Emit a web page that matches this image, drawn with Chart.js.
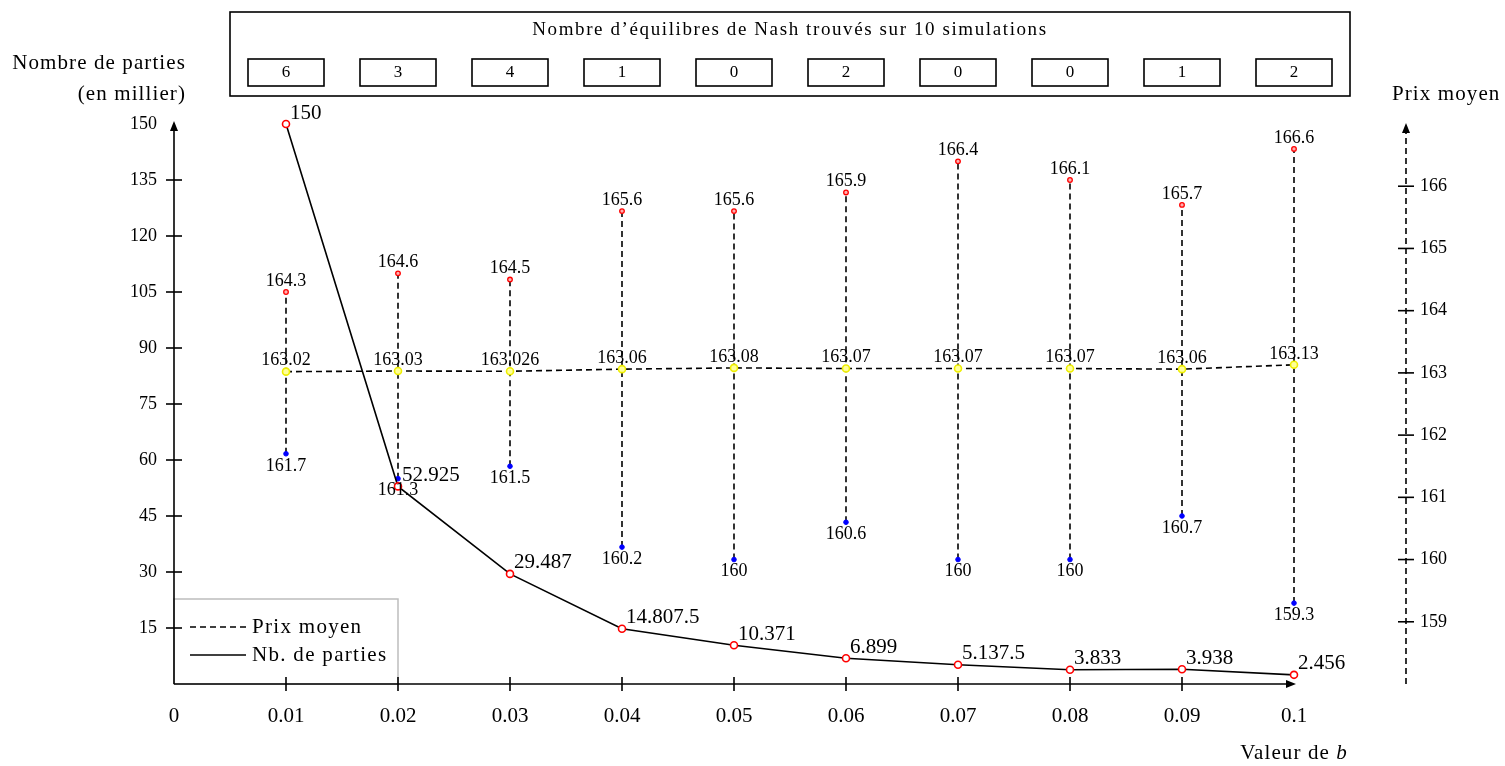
<!DOCTYPE html>
<html>
<head>
<meta charset="utf-8">
<title>Prix moyen et nombre de parties selon b</title>
<script src="https://cdn.jsdelivr.net/npm/chart.js@4.4.0/dist/chart.umd.min.js"></script>
<style>
  html, body { margin: 0; padding: 0; background: #fff; }
  #chart { display: block; }
</style>
</head>
<body>
<canvas id="chart" width="1505" height="766"></canvas>
<script>
// Valeurs de b (axe horizontal)
const bValues = [0.01, 0.02, 0.03, 0.04, 0.05, 0.06, 0.07, 0.08, 0.09, 0.1]

// Nombre de parties (en millier)
const nbParties = [150, 52.925, 29.487, 14.8075, 10.371, 6.899, 5.1375, 3.833, 3.938, 2.456]
const nbPartiesLabels = ["150", "52.925", "29.487", "14.807.5", "10.371", "6.899", "5.137.5", "3.833", "3.938", "2.456"]

// Prix moyen, min et max
const prixMoyen = [163.02, 163.03, 163.026, 163.06, 163.08, 163.07, 163.07, 163.07, 163.06, 163.13]
const prixMax = [164.3, 164.6, 164.5, 165.6, 165.6, 165.9, 166.4, 166.1, 165.7, 166.6]
const prixMin = [161.7, 161.3, 161.5, 160.2, 160, 160.6, 160, 160, 160.7, 159.3]

// Nombre d'equilibres de Nash sur 10 simulations
const nashCounts = [6, 3, 4, 1, 0, 2, 0, 0, 1, 2]

// Graduations
const xTicks = [0, 0.01, 0.02, 0.03, 0.04, 0.05, 0.06, 0.07, 0.08, 0.09, 0.1]
const xTickLabels = ["0", "0.01", "0.02", "0.03", "0.04", "0.05", "0.06", "0.07", "0.08", "0.09", "0.1"]
const yTicks = [15, 30, 45, 60, 75, 90, 105, 120, 135, 150]
const y2Ticks = [159, 160, 161, 162, 163, 164, 165, 166]

const SERIF = "'Liberation Serif', 'Times New Roman', serif"

function arrowHead(ctx, x, y, dir) {
  ctx.beginPath()
  if (dir === "up") {
    ctx.moveTo(x, y)
    ctx.lineTo(x - 4, y + 10)
    ctx.lineTo(x + 4, y + 10)
  } else {
    ctx.moveTo(x, y)
    ctx.lineTo(x - 10, y - 4)
    ctx.lineTo(x - 10, y + 4)
  }
  ctx.closePath()
  ctx.fillStyle = "#000"
  ctx.fill()
}

const decorPlugin = {
  id: "decor",
  afterDatasetsDraw(chart) {
    const ctx = chart.ctx
    const area = chart.chartArea
    const xs = chart.scales.x
    const ys = chart.scales.y
    const y2s = chart.scales.y2
    ctx.save()

    // Legend box (bottom left)
    const legTop = area.bottom - 85
    const legRight = xs.getPixelForValue(0.02)
    ctx.fillStyle = "#fff"
    ctx.fillRect(area.left, legTop, legRight - area.left, area.bottom - legTop)
    ctx.strokeStyle = "#bdbdbd"
    ctx.lineWidth = 1.5
    ctx.strokeRect(area.left, legTop, legRight - area.left, area.bottom - legTop)
    ctx.strokeStyle = "#000"
    ctx.lineWidth = 1.6
    ctx.setLineDash([6, 4])
    ctx.beginPath()
    ctx.moveTo(area.left + 16, legTop + 28)
    ctx.lineTo(area.left + 72, legTop + 28)
    ctx.stroke()
    ctx.setLineDash([])
    ctx.beginPath()
    ctx.moveTo(area.left + 16, legTop + 56)
    ctx.lineTo(area.left + 72, legTop + 56)
    ctx.stroke()
    ctx.font = "21px " + SERIF
    ctx.fillStyle = "#000"
    ctx.textAlign = "left"
    ctx.textBaseline = "middle"
    ctx.letterSpacing = "1.3px"
    ctx.fillText("Prix moyen", area.left + 78, legTop + 28)
    ctx.fillText("Nb. de parties", area.left + 78, legTop + 56)

    // Left axis
    ctx.strokeStyle = "#000"
    ctx.lineWidth = 1.6
    const yTop = ys.getPixelForValue(150) - 3
    ctx.beginPath()
    ctx.moveTo(area.left, area.bottom)
    ctx.lineTo(area.left, yTop + 6)
    ctx.stroke()
    arrowHead(ctx, area.left, yTop, "up")
    yTicks.slice(0, -1).forEach((v) => {
      const py = ys.getPixelForValue(v)
      ctx.beginPath()
      ctx.moveTo(area.left - 8, py)
      ctx.lineTo(area.left + 8, py)
      ctx.stroke()
    })

    // Bottom axis
    const xEnd = xs.getPixelForValue(0.1) + 2
    ctx.beginPath()
    ctx.moveTo(area.left, area.bottom)
    ctx.lineTo(xEnd - 6, area.bottom)
    ctx.stroke()
    arrowHead(ctx, xEnd, area.bottom, "right")
    xTicks.slice(1, -1).forEach((v) => {
      const px = xs.getPixelForValue(v)
      ctx.beginPath()
      ctx.moveTo(px, area.bottom - 7)
      ctx.lineTo(px, area.bottom + 7)
      ctx.stroke()
    })

    // Right axis (dashed)
    ctx.setLineDash([6, 4])
    ctx.beginPath()
    ctx.moveTo(area.right, area.bottom)
    ctx.lineTo(area.right, area.top + 6)
    ctx.stroke()
    ctx.setLineDash([])
    arrowHead(ctx, area.right, area.top - 1, "up")
    y2Ticks.forEach((v) => {
      const py = y2s.getPixelForValue(v)
      ctx.beginPath()
      ctx.moveTo(area.right - 8, py)
      ctx.lineTo(area.right + 8, py)
      ctx.stroke()
    })

    // Point labels
    ctx.letterSpacing = "0px"
    ctx.fillStyle = "#000"
    ctx.textBaseline = "middle"
    ctx.font = "21px " + SERIF
    ctx.textAlign = "left"
    chart.getDatasetMeta(0).data.forEach((pt, i) => {
      ctx.fillText(nbPartiesLabels[i], pt.x + 4, pt.y - 11)
    })
    ctx.font = "18px " + SERIF
    ctx.textAlign = "center"
    chart.getDatasetMeta(1).data.forEach((pt, i) => {
      ctx.fillText(String(prixMoyen[i]), pt.x, pt.y - 11)
    })
    chart.getDatasetMeta(3).data.forEach((pt, i) => {
      ctx.fillText(String(prixMax[i]), pt.x, pt.y - 11)
    })
    chart.getDatasetMeta(4).data.forEach((pt, i) => {
      ctx.fillText(String(prixMin[i]), pt.x, pt.y + 12)
    })

    // Axis titles
    ctx.font = "21px " + SERIF
    ctx.letterSpacing = "1.1px"
    ctx.textAlign = "right"
    ctx.fillText("Nombre de parties", 186, 63)
    ctx.fillText("(en millier)", 186, 94)
    ctx.textAlign = "left"
    ctx.fillText("Prix moyen", 1392, 94)
    const labelA = "Valeur de "
    const wA = ctx.measureText(labelA).width
    ctx.font = "italic 21px " + SERIF
    const wB = ctx.measureText("b").width
    const startX = xs.getPixelForValue(0.1) - (wA + wB) / 2
    ctx.font = "21px " + SERIF
    ctx.fillText(labelA, startX, 753)
    ctx.font = "italic 21px " + SERIF
    ctx.fillText("b", startX + wA, 753)

    // Nash box
    const boxL = xs.getPixelForValue(0.005)
    const boxR = xs.getPixelForValue(0.105)
    ctx.strokeStyle = "#000"
    ctx.lineWidth = 1.6
    ctx.strokeRect(boxL, 12, boxR - boxL, 84)
    ctx.font = "19px " + SERIF
    ctx.letterSpacing = "1.6px"
    ctx.textAlign = "center"
    ctx.fillText("Nombre d\u2019\u00e9quilibres de Nash trouv\u00e9s sur 10 simulations", (boxL + boxR) / 2, 30)
    ctx.letterSpacing = "0px"
    ctx.font = "17px " + SERIF
    bValues.forEach((b, i) => {
      const cx = xs.getPixelForValue(b)
      ctx.strokeRect(cx - 38, 59, 76, 27)
      ctx.fillText(String(nashCounts[i]), cx, 73)
    })

    ctx.restore()
  },
}

const tickFont = { family: SERIF, size: 18 }

new Chart(document.getElementById("chart"), {
  type: "line",
  data: {
    datasets: [
      {
        label: "Nb. de parties",
        yAxisID: "y",
        data: bValues.map((b, i) => ({ x: b, y: nbParties[i] })),
        borderColor: "#000",
        borderWidth: 1.6,
        pointRadius: 3.5,
        pointBorderWidth: 1.6,
        pointBorderColor: "#ff0000",
        pointBackgroundColor: "#fff",
        clip: false,
        order: 0,
      },
      {
        label: "Prix moyen",
        yAxisID: "y2",
        data: bValues.map((b, i) => ({ x: b, y: prixMoyen[i] })),
        borderColor: "#000",
        borderWidth: 1.6,
        borderDash: [6, 4],
        pointRadius: 3.5,
        pointBorderWidth: 1.6,
        pointBorderColor: "#eeee00",
        pointBackgroundColor: "#ffff99",
        order: 1,
      },
      {
        label: "Etendue",
        yAxisID: "y2",
        data: bValues.flatMap((b, i) => [
          { x: b, y: prixMin[i] },
          { x: b, y: prixMax[i] },
          { x: b, y: null },
        ]),
        borderColor: "#000",
        borderWidth: 1.6,
        borderDash: [6, 4],
        pointRadius: 0,
        spanGaps: false,
        order: 3,
      },
      {
        label: "Prix max",
        yAxisID: "y2",
        data: bValues.map((b, i) => ({ x: b, y: prixMax[i] })),
        showLine: false,
        pointRadius: 2.3,
        pointBorderWidth: 1.3,
        pointBorderColor: "#ff0000",
        pointBackgroundColor: "#ffb0b0",
        order: 2,
      },
      {
        label: "Prix min",
        yAxisID: "y2",
        data: bValues.map((b, i) => ({ x: b, y: prixMin[i] })),
        showLine: false,
        pointRadius: 2.3,
        pointBorderWidth: 1,
        pointBorderColor: "#0000ff",
        pointBackgroundColor: "#0000ff",
        order: 2,
      },
    ],
  },
  options: {
    responsive: false,
    animation: false,
    devicePixelRatio: 1,
    layout: { padding: { top: 124 } },
    elements: { line: { tension: 0 } },
    plugins: {
      legend: { display: false },
      tooltip: { enabled: false },
    },
    scales: {
      x: {
        type: "linear",
        min: 0,
        max: 0.11,
        afterFit: (s) => { s.height = 82 },
        afterBuildTicks: (s) => { s.ticks = xTicks.map((v) => ({ value: v })) },
        ticks: {
          callback: (v, i) => xTickLabels[i],
          font: { family: SERIF, size: 21 },
          color: "#000",
          padding: 20,
          maxRotation: 0,
          autoSkip: false,
        },
        grid: { display: false, drawTicks: false },
        border: { display: false },
      },
      y: {
        position: "left",
        min: 0,
        max: 150,
        afterFit: (s) => { s.width = 174 },
        afterBuildTicks: (s) => { s.ticks = yTicks.map((v) => ({ value: v })) },
        ticks: { font: tickFont, color: "#000", padding: 17 },
        grid: { display: false, drawTicks: false },
        border: { display: false },
      },
      y2: {
        position: "right",
        min: 158,
        max: 167,
        afterFit: (s) => { s.width = 99 },
        afterBuildTicks: (s) => { s.ticks = y2Ticks.map((v) => ({ value: v })) },
        ticks: { font: tickFont, color: "#000", padding: 14 },
        grid: { display: false, drawTicks: false },
        border: { display: false },
      },
    },
  },
  plugins: [decorPlugin],
})
</script>
</body>
</html>
